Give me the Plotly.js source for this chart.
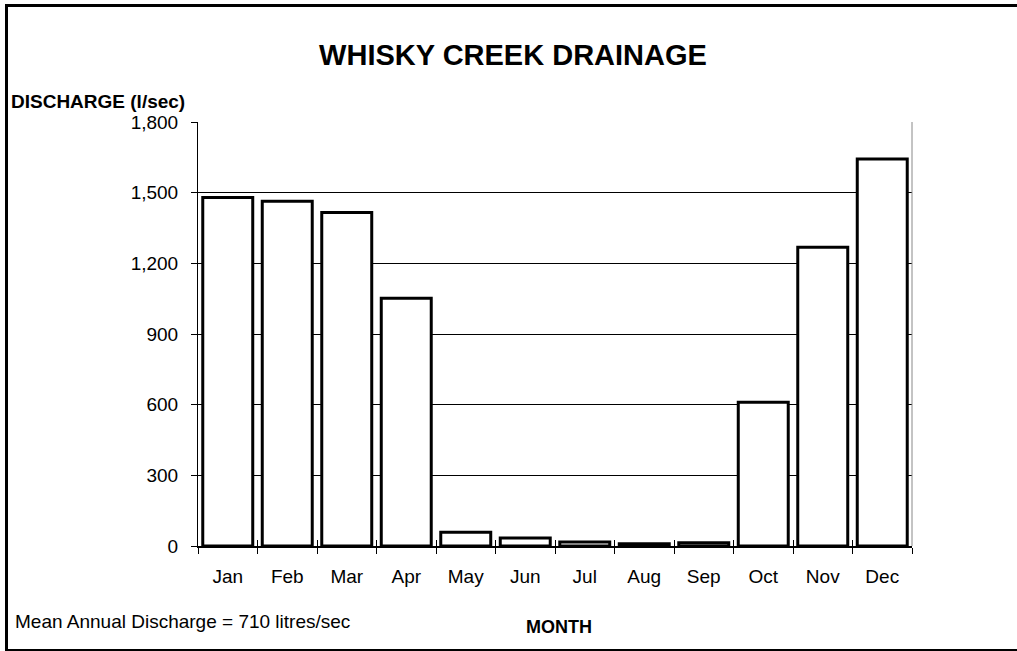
<!DOCTYPE html>
<html>
<head>
<meta charset="utf-8">
<script src="https://cdn.plot.ly/plotly-3.0.1.min.js"></script>
<style>
  html, body { margin: 0; padding: 0; background: #ffffff; }
  #frame { position: absolute; left: 5px; top: 4px; width: 1012px; height: 647px; box-sizing: border-box;
           border-top: 3px solid #000; border-left: 3px solid #000; border-bottom: 2px solid #000; }
  #chart { position: absolute; left: 0; top: 0; width: 1017px; height: 651px; }
</style>
</head>
<body>
<div id="frame"></div>
<div id="chart"></div>
<script>
// ---- data ----
const months = ["Jan", "Feb", "Mar", "Apr", "May", "Jun", "Jul", "Aug", "Sep", "Oct", "Nov", "Dec"];
const discharge = [1480, 1464, 1416, 1052, 58, 34, 17, 10, 14, 610, 1268, 1643];
const yTickVals = [0, 300, 600, 900, 1200, 1500, 1800];
const chartTitle = "WHISKY CREEK DRAINAGE";
const yTitle = "DISCHARGE (l/sec)";
const xTitle = "MONTH";
const note = "Mean Annual Discharge = 710 litres/sec";

const FONT = "Liberation Sans, Arial, sans-serif";
const xRange = [-0.5, months.length - 0.5];

const traces = [
  {
    type: "bar",
    x: months,
    y: discharge,
    marker: { color: "#ffffff", line: { color: "#000000", width: 3 } },
    hoverinfo: "x+y"
  },
  {
    type: "scatter",
    mode: "markers",
    x: months,
    y: months.map(() => null),
    xaxis: "x2",
    yaxis: "y",
    showlegend: false,
    hoverinfo: "skip"
  }
];

const layout = {
  width: 1017,
  height: 651,
  paper_bgcolor: "rgba(0,0,0,0)",
  plot_bgcolor: "rgba(0,0,0,0)",
  margin: { l: 198, r: 105, t: 122, b: 105 },
  showlegend: false,
  bargap: 0.16,
  font: { family: FONT, color: "#000000", size: 19 },
  title: {
    text: chartTitle,
    font: { family: FONT, size: 29, color: "#000000", weight: "bold" },
    x: 513 / 1017, xanchor: "center", xref: "container",
    y: 1 - 55 / 651, yanchor: "middle", yref: "container"
  },
  xaxis: {
    type: "category",
    categoryarray: months,
    range: xRange,
    autorange: false,
    showgrid: false,
    showline: true,
    linecolor: "#000000",
    linewidth: 1.5,
    ticks: "outside",
    tickson: "boundaries",
    ticklen: 6,
    tickcolor: "#000000",
    tickwidth: 1,
    ticklabelstandoff: 13,
    tickfont: { family: FONT, size: 19, color: "#000000" },
    fixedrange: true,
    zeroline: false
  },
  xaxis2: {
    type: "category",
    categoryarray: months,
    range: xRange,
    autorange: false,
    overlaying: "x",
    anchor: "y",
    side: "bottom",
    showgrid: false,
    showline: false,
    ticks: "inside",
    tickson: "boundaries",
    ticklen: 6,
    tickcolor: "#000000",
    tickwidth: 1,
    showticklabels: false,
    zeroline: false,
    fixedrange: true
  },
  yaxis: {
    range: [0, 1800],
    autorange: false,
    tickvals: yTickVals,
    tickformat: ",d",
    showgrid: true,
    gridcolor: "#000000",
    gridwidth: 1,
    showline: true,
    linecolor: "#000000",
    linewidth: 1,
    ticks: "outside",
    ticklen: 6,
    tickcolor: "#000000",
    ticklabelstandoff: 9,
    tickfont: { family: FONT, size: 19, color: "#000000" },
    zeroline: false,
    fixedrange: true
  },
  shapes: [
    { type: "line", xref: "paper", yref: "paper", x0: 1, x1: 1, y0: 0, y1: 1,
      line: { color: "#888888", width: 1 } }
  ],
  annotations: [
    { text: "<b>" + yTitle + "</b>", xref: "paper", yref: "paper",
      x: (9 - 198) / 714, xanchor: "left", y: (546 - 101) / 424, yanchor: "middle",
      showarrow: false, font: { family: FONT, size: 19, color: "#000000" } },
    { text: "<b>" + xTitle + "</b>", xref: "paper", yref: "paper",
      x: (559 - 198) / 714, xanchor: "center", y: (546 - 627) / 424, yanchor: "middle",
      showarrow: false, font: { family: FONT, size: 18, color: "#000000" } },
    { text: note, xref: "paper", yref: "paper",
      x: (13 - 198) / 714, xanchor: "left", y: (546 - 621) / 424, yanchor: "middle",
      showarrow: false, font: { family: FONT, size: 19, color: "#000000" } }
  ]
};

Plotly.newPlot("chart", traces, layout, { displayModeBar: false, staticPlot: true });
</script>
</body>
</html>
